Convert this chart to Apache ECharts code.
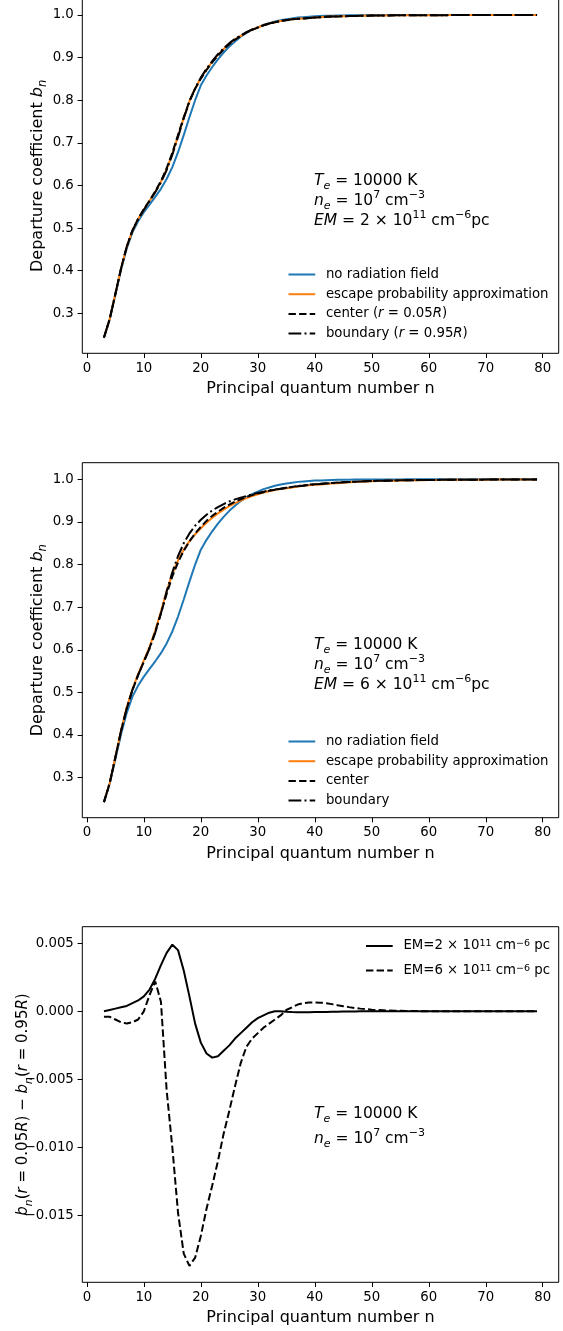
<!DOCTYPE html>
<html><head><meta charset="utf-8">
<script src="https://cdn.jsdelivr.net/npm/echarts@6/dist/echarts.min.js"></script>
<style>html,body{margin:0;padding:0;background:#fff}#c{width:563px;height:1331px}</style>
</head><body><div id="c"></div>
<script>
const nValues = [3,4,5,6,7,8,9,10,11,12,13,14,15,16,17,18,19,20,21,22,23,24,25,26,27,28,29,30,31,32,33,34,35,36,37,38,39,40,41,42,43,44,45,46,47,48,49,50,51,52,53,54,55,56,57,58,59,60,61,62,63,64,65,66,67,68,69,70,71,72,73,74,75,76,77,78,79];

// no radiation field (same in both upper panels)
const noRadiation = [0.242,0.285,0.343,0.402,0.452,0.490,0.516,0.537,0.555,0.573,
0.592,0.615,0.643,0.678,0.718,0.760,0.800,0.835,0.858,0.878,
0.896,0.912,0.926,0.938,0.949,0.958,0.965,0.971,0.977,0.981,
0.985,0.988,0.990,0.992,0.994,0.995,0.996,0.997,0.9975,0.998,
0.9984,0.9987,0.999,0.9992,0.9993,0.9994,0.9995,0.9996,0.9997,0.9997,
0.9998,0.9998,0.9998,0.9999,0.9999,0.9999,0.9999,0.9999,0.9999,0.9999,
0.9999,0.9999,0.9999,0.9999,0.9999,0.9999,0.9999,0.9999,0.9999,0.9999,
0.9999,0.9999,0.9999,0.9999,0.9999,0.9999,0.9999];

// EM = 2e11
const escape1 = [0.243,0.286,0.345,0.405,0.456,0.494,0.5215,0.5436,0.5638,0.5852,
0.6087,0.638,0.6745,0.716,0.7585,0.7976,0.8276,0.852,0.8725,0.8903,
0.9063,0.9205,0.9327,0.943,0.9512,0.9594,0.9656,0.9708,0.9759,0.98,
0.983,0.986,0.988,0.990,0.991,0.992,0.993,0.994,0.995,0.9957,
0.9963,0.9968,0.9972,0.9976,0.9979,0.9982,0.9985,0.9987,0.9989,0.999,
0.9991,0.9992,0.9993,0.9994,0.9995,0.9995,0.9996,0.9996,0.9997,0.9997,
0.9997,0.9998,0.9998,0.9998,0.9998,0.9999,0.9999,0.9999,0.9999,0.9999,
0.9999,0.9999,0.9999,0.9999,0.9999,0.9999,0.9999];
const center1 = [0.243,0.2861,0.3452,0.4053,0.4564,0.4946,0.5218,0.5441,0.5646,0.5864,
0.6104,0.6403,0.6769,0.7185,0.760,0.7981,0.8271,0.8507,0.8709,0.8886,
0.9047,0.9191,0.9315,0.942,0.9504,0.9588,0.9652,0.9705,0.9757,0.9799,
0.983,0.986,0.98797,0.98995,0.99094,0.99194,0.99294,0.99395,0.99495,0.99566,
0.99627,0.99677,0.99718,0.99758,0.99789,0.9982,0.9985,0.9987,0.9989,0.999,
0.9991,0.9992,0.9993,0.9994,0.9995,0.9995,0.9996,0.9996,0.9997,0.9997,
0.9997,0.9998,0.9998,0.9998,0.9998,0.9999,0.9999,0.9999,0.9999,0.9999,
0.9999,0.9999,0.9999,0.9999,0.9999,0.9999,0.9999];
const boundary1 = [0.243,0.286,0.345,0.405,0.456,0.494,0.521,0.543,0.563,0.584,
0.607,0.636,0.672,0.714,0.757,0.797,0.828,0.853,0.874,0.892,
0.908,0.922,0.934,0.944,0.952,0.960,0.966,0.971,0.976,0.980,
0.983,0.986,0.988,0.990,0.991,0.992,0.993,0.994,0.995,0.9957,
0.9963,0.9968,0.9972,0.9976,0.9979,0.9982,0.9985,0.9987,0.9989,0.999,
0.9991,0.9992,0.9993,0.9994,0.9995,0.9995,0.9996,0.9996,0.9997,0.9997,
0.9997,0.9998,0.9998,0.9998,0.9998,0.9999,0.9999,0.9999,0.9999,0.9999,
0.9999,0.9999,0.9999,0.9999,0.9999,0.9999,0.9999];

// EM = 6e11
const escape2 = [0.243,0.287,0.348,0.411,0.465,0.508,0.543,0.575,0.607,0.645,
0.690,0.738,0.778,0.810,0.835,0.855,0.871,0.885,0.898,0.910,
0.920,0.929,0.937,0.944,0.950,0.956,0.961,0.965,0.969,0.972,
0.975,0.977,0.979,0.981,0.983,0.985,0.986,0.987,0.988,0.989,
0.990,0.991,0.992,0.993,0.9937,0.9943,0.9949,0.9955,0.996,0.9963,
0.9966,0.9969,0.9972,0.9975,0.9977,0.9979,0.9981,0.9983,0.9985,0.9986,
0.9987,0.9988,0.9989,0.999,0.9991,0.9991,0.9992,0.9992,0.9993,0.9993,
0.9994,0.9994,0.9995,0.9995,0.9996,0.9996,0.9997];
const center2 = [0.2426,0.2866,0.3474,0.4092,0.4621,0.5052,0.5404,0.572,0.6042,0.6422,
0.6857,0.7312,0.772,0.8052,0.8322,0.8543,0.8729,0.8885,0.9025,0.9142,
0.924,0.933,0.9407,0.9475,0.9532,0.9584,0.963,0.9664,0.9698,0.9731,
0.9754,0.9777,0.9801,0.9823,0.9845,0.9856,0.98765,0.98866,0.98964,0.9906,
0.99153,0.99245,0.99338,0.99401,0.99455,0.9951,0.99566,0.99612,0.9964,0.99668,
0.99696,0.99725,0.99754,0.99773,0.99792,0.99812,0.99831,0.99851,0.99861,0.99871,
0.9988,0.9989,0.999,0.9991,0.9991,0.9992,0.9992,0.9993,0.9993,0.9994,
0.9994,0.9995,0.9995,0.9996,0.9996,0.9997,0.9997];
const boundary2 = [0.243,0.287,0.348,0.410,0.463,0.506,0.541,0.572,0.603,0.640,
0.685,0.737,0.782,0.820,0.850,0.873,0.891,0.905,0.917,0.927,
0.935,0.942,0.948,0.953,0.957,0.961,0.965,0.968,0.971,0.974,
0.976,0.978,0.980,0.982,0.984,0.985,0.987,0.988,0.989,0.990,
0.991,0.992,0.993,0.9937,0.9943,0.9949,0.9955,0.996,0.9963,0.9966,
0.9969,0.9972,0.9975,0.9977,0.9979,0.9981,0.9983,0.9985,0.9986,0.9987,
0.9988,0.9989,0.999,0.9991,0.9991,0.9992,0.9992,0.9993,0.9993,0.9994,
0.9994,0.9995,0.9995,0.9996,0.9996,0.9997,0.9997];

// b_n(r=0.05R) - b_n(r=0.95R)
const diffEM2 = [0,0.0001,0.0002,0.0003,0.0004,0.0006,0.0008,0.0011,0.0016,0.0024,
0.0034,0.0043,0.0049,0.0045,0.0030,0.0011,-0.0009,-0.0023,-0.0031,-0.0034,
-0.0033,-0.0029,-0.0025,-0.0020,-0.0016,-0.0012,-0.0008,-0.0005,-0.0003,-0.0001,
0,0,-0.00003,-0.00005,-0.00006,-0.00006,-0.00006,-0.00005,-0.00005,-0.00004,
-0.00003,-0.00003,-0.00002,-0.00002,-0.00001,0,0,0,0,0,
0,0,0,0,0,0,0,0,0,0,
0,0,0,0,0,0,0,0,0,0,
0,0,0,0,0,0,0];
const diffEM6 = [-0.0004,-0.0004,-0.0006,-0.0008,-0.0009,-0.0008,-0.0006,0,0.0012,0.0022,
0.0007,-0.0058,-0.0100,-0.0148,-0.0178,-0.0187,-0.0181,-0.0165,-0.0145,-0.0128,
-0.0110,-0.0090,-0.0073,-0.0055,-0.0038,-0.0026,-0.0020,-0.0016,-0.0012,-0.0009,
-0.0006,-0.0003,0.0001,0.0003,0.0005,0.0006,0.00065,0.00066,0.00064,0.0006,
0.00053,0.00045,0.00038,0.00031,0.00025,0.0002,0.00016,0.00012,0.0001,0.00008,
0.00006,0.00005,0.00004,0.00003,0.00002,0.00002,0.00001,0.00001,0.00001,0.00001,
0,0,0,0,0,0,0,0,0,0,
0,0,0,0,0,0,0];

const xTicks = [0,10,20,30,40,50,60,70,80];
const yTicksBn = [0.3,0.4,0.5,0.6,0.7,0.8,0.9,1.0];
const yTicksDiff = [-0.015,-0.010,-0.005,0,0.005];

const FONT = 'DejaVu Sans';
const BLUE = '#1f77b4', ORANGE = '#ff7f0e', BLACK = '#000000';
const LW = 2;
const DASHED = [7.4, 3.2];
const DASHDOT = [12.8, 3.2, 2, 3.2];
const TICK_FS = 13.3, NAME_FS = 16, LEG_FS = 13.3, ANN_FS = 15.5;

const chart = echarts.init(document.getElementById('c'), null, {renderer: 'canvas'});

function pairs(ys) { return nValues.map((n, i) => [n, ys[i]]); }
function line(name, ys, idx, color, type) {
  return {
    name, type: 'line', xAxisIndex: idx, yAxisIndex: idx, data: pairs(ys),
    showSymbol: false, symbol: 'none', animation: false, clip: true,
    lineStyle: {color, width: LW, type: type || 'solid'},
    itemStyle: {color}
  };
}

const grids = [
  {left: 82.3, width: 476.4, top: -1.6, height: 354.9},
  {left: 82.3, width: 476.4, top: 462.7, height: 355.0},
  {left: 82.3, width: 476.4, top: 926.7, height: 355.6}
].map(g => Object.assign(g, {show: true, borderColor: '#000', borderWidth: 1, backgroundColor: 'transparent', containLabel: false, outerBoundsMode: 'none'}));

const tickStyle = {show: true, inside: false, length: 4.7, lineStyle: {color: '#000', width: 1}};
const labelFont = {fontFamily: FONT, fontSize: TICK_FS, color: '#000'};

function nameRich(fs) {
  return {
    t: {fontFamily: FONT, fontSize: fs, color: '#000', lineHeight: 22},
    i: {fontFamily: FONT, fontSize: fs, fontStyle: 'italic', color: '#000', lineHeight: 22},
    s: {fontFamily: FONT, fontSize: fs * 0.72, fontStyle: 'italic', color: '#000', lineHeight: 11, verticalAlign: 'bottom'}
  };
}

const xAxes = [0,1,2].map(i => ({
  type: 'value', gridIndex: i, min: -0.8, max: 82.8,
  axisLine: {show: false, onZero: false}, splitLine: {show: false},
  axisTick: Object.assign({customValues: xTicks}, tickStyle),
  axisLabel: Object.assign({customValues: xTicks, margin: 8.5, formatter: v => String(v)}, labelFont),
  name: 'Principal quantum number n', nameLocation: 'middle', nameGap: 28, nameMoveOverlap: false,
  nameTextStyle: {fontFamily: FONT, fontSize: NAME_FS, color: '#000'}
}));

const bnName = '{t|Departure coefficient }{i|b}{s|n}';
const diffName = '{i|b}{s|n}{t|(}{i|r}{t| = 0.05}{i|R}{t|) − }{i|b}{s|n}{t|(}{i|r}{t| = 0.95}{i|R}{t|)}';

const yAxes = [
  {min: 0.206, max: 1.039, ticks: yTicksBn, fmt: v => v.toFixed(1), name: bnName, gap: 33, fs: NAME_FS},
  {min: 0.206, max: 1.039, ticks: yTicksBn, fmt: v => v.toFixed(1), name: bnName, gap: 33, fs: NAME_FS},
  {min: -0.01991, max: 0.00622, ticks: yTicksDiff, fmt: v => (Math.abs(v) < 1e-12 ? '0.000' : (v < 0 ? '\u2212' + Math.abs(v).toFixed(3) : v.toFixed(3))), name: diffName, gap: 48, fs: 15}
].map((a, i) => ({
  type: 'value', gridIndex: i, min: a.min, max: a.max,
  axisLine: {show: false, onZero: false}, splitLine: {show: false},
  axisTick: Object.assign({customValues: a.ticks}, tickStyle),
  axisLabel: Object.assign({customValues: a.ticks, margin: 8.5, formatter: a.fmt}, labelFont),
  name: a.name, nameLocation: 'middle', nameRotate: 90, nameGap: a.gap, nameMoveOverlap: false,
  nameTextStyle: {rich: nameRich(a.fs)}
}));

const legRich = {
  t: {fontFamily: FONT, fontSize: LEG_FS, color: '#000', lineHeight: 14},
  i: {fontFamily: FONT, fontSize: LEG_FS, fontStyle: 'italic', color: '#000', lineHeight: 14},
  p: {fontFamily: FONT, fontSize: 9.5, color: '#000', lineHeight: 8, verticalAlign: 'top'}
};
const legendLabels = {
  'no radiation field': '{t|no radiation field}',
  'escape probability approximation': '{t|escape probability approximation}',
  'center (r=0.05R)': '{t|center (}{i|r}{t| = 0.05}{i|R}{t|)}',
  'boundary (r=0.95R)': '{t|boundary (}{i|r}{t| = 0.95}{i|R}{t|)}',
  'center': '{t|center}',
  'boundary': '{t|boundary}',
  'EM=2e11': '{t|EM=2 × 10}{p|11}{t| cm}{p|−6}{t| pc}',
  'EM=6e11': '{t|EM=6 × 10}{p|11}{t| cm}{p|−6}{t| pc}'
};
function legend(left, top, data, gap) {
  return {
    orient: 'vertical', left, top, data, itemWidth: 26.7, itemHeight: 14, itemGap: gap, padding: 0,
    selectedMode: false, formatter: n => legendLabels[n],
    lineStyle: {width: LW},
    itemStyle: {opacity: 0, color: 'rgba(0,0,0,0)', borderColor: 'rgba(0,0,0,0)', borderWidth: 0},
    textStyle: {rich: legRich, padding: [0, 0, 0, 5.7]}
  };
}

const series = [
  line('no radiation field', noRadiation, 0, BLUE),
  line('escape probability approximation', escape1, 0, ORANGE),
  line('center (r=0.05R)', center1, 0, BLACK, DASHED),
  line('boundary (r=0.95R)', boundary1, 0, BLACK, DASHDOT),
  line('no radiation field', noRadiation, 1, BLUE),
  line('escape probability approximation', escape2, 1, ORANGE),
  line('center', center2, 1, BLACK, DASHED),
  line('boundary', boundary2, 1, BLACK, DASHDOT),
  line('EM=2e11', diffEM2, 2, BLACK),
  line('EM=6e11', diffEM6, 2, BLACK, DASHED)
];

const annRich = {
  t: {fontFamily: FONT, fontSize: ANN_FS, fill: '#000', lineHeight: 22},
  i: {fontFamily: FONT, fontSize: ANN_FS, fontStyle: 'italic', fill: '#000', lineHeight: 22},
  s: {fontFamily: FONT, fontSize: 11, fontStyle: 'italic', fill: '#000', lineHeight: 11, verticalAlign: 'bottom'},
  p: {fontFamily: FONT, fontSize: 11, fill: '#000', lineHeight: 11, verticalAlign: 'top'}
};
const annTe = '{i|T}{s|e}{t| = 10000 K}';
const annNe = '{i|n}{s|e}{t| = 10}{p|7}{t| cm}{p|−3}';
const annEM2 = '{i|EM}{t| = 2 × 10}{p|11}{t| cm}{p|−6}{t|pc}';
const annEM6 = '{i|EM}{t| = 6 × 10}{p|11}{t| cm}{p|−6}{t|pc}';
function ann(text, x, y) {
  return {type: 'text', x, y, silent: true, style: {text, rich: annRich, textVerticalAlign: 'middle', textAlign: 'left'}};
}

chart.setOption({
  animation: false,
  backgroundColor: '#fff',
  grid: grids,
  xAxis: xAxes,
  yAxis: yAxes,
  legend: [
    legend(287.5, 268, ['no radiation field', 'escape probability approximation', 'center (r=0.05R)', 'boundary (r=0.95R)'], 6.7),
    legend(287.5, 735, ['no radiation field', 'escape probability approximation', 'center', 'boundary'], 6.7),
    legend(365, 939, ['EM=2e11', 'EM=6e11'], 11)
  ],
  series,
  graphic: [
    ann(annTe, 314, 181), ann(annNe, 314, 201), ann(annEM2, 314, 221),
    ann(annTe, 314, 645), ann(annNe, 314, 665), ann(annEM6, 314, 685),
    ann(annTe, 314, 1114), ann(annNe, 314, 1139)
  ]
});
</script>
</body></html>
